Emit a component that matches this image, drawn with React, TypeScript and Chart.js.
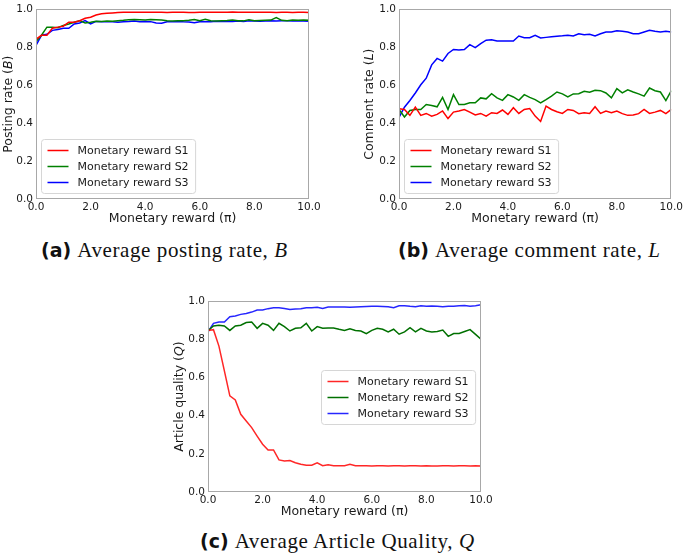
import React, { useEffect, useRef } from "react";
import { Chart, registerables } from "chart.js";
Chart.register(...registerables);

// ---------------- data ----------------
const X = [0, 0.2, 0.4, 0.6, 0.8, 1.0, 1.2, 1.4, 1.6, 1.8, 2.0, 2.2, 2.4, 2.6, 2.8, 3.0, 3.2, 3.4, 3.6, 3.8, 4.0, 4.2, 4.4, 4.6, 4.8, 5.0, 5.2, 5.4, 5.6, 5.8, 6.0, 6.2, 6.4, 6.6, 6.8, 7.0, 7.2, 7.4, 7.6, 7.8, 8.0, 8.2, 8.4, 8.6, 8.8, 9.0, 9.2, 9.4, 9.6, 9.8, 10.0];
const SERIES_LABELS = ["Monetary reward S1", "Monetary reward S2", "Monetary reward S3"];
const X_TICKS = [0, 2, 4, 6, 8, 10];
const Y_TICKS = [0, 0.2, 0.4, 0.6, 0.8, 1.0];

// (a) Average posting rate
const postingS1 = [0.842, 0.863, 0.863, 0.9, 0.906, 0.911, 0.932, 0.932, 0.94, 0.953, 0.958, 0.97, 0.976, 0.979, 0.981, 0.983, 0.984, 0.984, 0.985, 0.984, 0.984, 0.985, 0.985, 0.984, 0.983, 0.984, 0.985, 0.984, 0.983, 0.983, 0.984, 0.985, 0.985, 0.984, 0.985, 0.985, 0.986, 0.985, 0.984, 0.984, 0.985, 0.984, 0.985, 0.984, 0.983, 0.984, 0.984, 0.983, 0.984, 0.984, 0.983];
const postingS2 = [0.83, 0.863, 0.906, 0.906, 0.903, 0.915, 0.923, 0.932, 0.94, 0.928, 0.932, 0.937, 0.936, 0.938, 0.937, 0.94, 0.942, 0.945, 0.946, 0.945, 0.944, 0.946, 0.945, 0.944, 0.94, 0.938, 0.94, 0.94, 0.942, 0.946, 0.94, 0.948, 0.94, 0.938, 0.94, 0.941, 0.943, 0.94, 0.939, 0.945, 0.94, 0.941, 0.942, 0.943, 0.956, 0.942, 0.94, 0.944, 0.942, 0.943, 0.942];
const postingS3 = [0.81, 0.863, 0.868, 0.889, 0.894, 0.9, 0.9, 0.923, 0.928, 0.94, 0.923, 0.936, 0.935, 0.935, 0.934, 0.932, 0.935, 0.936, 0.938, 0.935, 0.936, 0.935, 0.928, 0.927, 0.934, 0.935, 0.936, 0.934, 0.933, 0.929, 0.934, 0.935, 0.935, 0.937, 0.936, 0.937, 0.936, 0.938, 0.936, 0.94, 0.938, 0.937, 0.938, 0.939, 0.938, 0.939, 0.939, 0.938, 0.939, 0.938, 0.937];

// (b) Average comment rate
const commentS1 = [0.476, 0.472, 0.441, 0.484, 0.441, 0.451, 0.437, 0.446, 0.464, 0.424, 0.458, 0.464, 0.472, 0.458, 0.443, 0.451, 0.437, 0.455, 0.451, 0.469, 0.446, 0.481, 0.451, 0.472, 0.477, 0.437, 0.409, 0.49, 0.472, 0.46, 0.451, 0.472, 0.467, 0.45, 0.455, 0.451, 0.486, 0.451, 0.464, 0.455, 0.464, 0.45, 0.441, 0.443, 0.45, 0.472, 0.451, 0.458, 0.467, 0.45, 0.472];
const commentS2 = [0.472, 0.432, 0.467, 0.472, 0.472, 0.498, 0.493, 0.486, 0.536, 0.472, 0.55, 0.498, 0.498, 0.507, 0.507, 0.533, 0.528, 0.555, 0.533, 0.52, 0.55, 0.538, 0.52, 0.55, 0.536, 0.524, 0.507, 0.524, 0.542, 0.564, 0.554, 0.538, 0.554, 0.555, 0.568, 0.563, 0.573, 0.571, 0.559, 0.533, 0.582, 0.559, 0.576, 0.564, 0.554, 0.542, 0.585, 0.571, 0.564, 0.519, 0.571];
const commentS3 = [0.43, 0.484, 0.519, 0.559, 0.602, 0.637, 0.707, 0.741, 0.727, 0.767, 0.788, 0.785, 0.788, 0.814, 0.798, 0.819, 0.837, 0.84, 0.833, 0.833, 0.833, 0.833, 0.859, 0.85, 0.85, 0.863, 0.849, 0.852, 0.855, 0.858, 0.86, 0.863, 0.859, 0.871, 0.866, 0.868, 0.859, 0.871, 0.88, 0.88, 0.887, 0.884, 0.88, 0.871, 0.871, 0.88, 0.889, 0.884, 0.88, 0.884, 0.88];

// (c) Average article quality
const qualityS1 = [0.845, 0.85, 0.764, 0.634, 0.503, 0.482, 0.407, 0.372, 0.337, 0.293, 0.25, 0.22, 0.22, 0.168, 0.162, 0.165, 0.153, 0.145, 0.14, 0.14, 0.153, 0.138, 0.142, 0.138, 0.138, 0.138, 0.145, 0.138, 0.137, 0.137, 0.136, 0.137, 0.137, 0.136, 0.137, 0.137, 0.136, 0.137, 0.137, 0.136, 0.137, 0.136, 0.136, 0.137, 0.137, 0.136, 0.137, 0.137, 0.136, 0.137, 0.136];
const qualityS2 = [0.845, 0.869, 0.873, 0.869, 0.846, 0.869, 0.873, 0.887, 0.89, 0.857, 0.883, 0.873, 0.846, 0.883, 0.866, 0.843, 0.857, 0.86, 0.883, 0.843, 0.866, 0.857, 0.859, 0.859, 0.852, 0.846, 0.855, 0.846, 0.843, 0.829, 0.846, 0.857, 0.852, 0.838, 0.852, 0.826, 0.838, 0.86, 0.838, 0.857, 0.843, 0.838, 0.84, 0.848, 0.815, 0.83, 0.83, 0.84, 0.85, 0.825, 0.8];
const qualityS3 = [0.838, 0.883, 0.89, 0.89, 0.918, 0.921, 0.93, 0.935, 0.942, 0.953, 0.953, 0.96, 0.965, 0.965, 0.961, 0.956, 0.958, 0.96, 0.965, 0.965, 0.967, 0.961, 0.969, 0.969, 0.969, 0.969, 0.967, 0.969, 0.97, 0.971, 0.972, 0.972, 0.971, 0.97, 0.965, 0.975, 0.975, 0.972, 0.97, 0.975, 0.973, 0.974, 0.973, 0.97, 0.972, 0.973, 0.975, 0.977, 0.972, 0.975, 0.98];

// ---------------- styling ----------------
const FONT = "'DejaVu Sans', sans-serif";
const TEXT = "#1a1a1a";
const SPINE = "#a8a8a8";

const framePlugin = {
  id: "frameTitles",
  afterDatasetsDraw(chart: any, _args: any, opts: any) {
    const { ctx, chartArea: a } = chart;
    ctx.save();
    ctx.strokeStyle = SPINE;
    ctx.lineWidth = 1;
    ctx.strokeRect(Math.round(a.left) + 0.5, Math.round(a.top) + 0.5, Math.round(a.right - a.left) - 1, Math.round(a.bottom - a.top) - 1);
    ctx.fillStyle = TEXT;
    // x title
    ctx.font = `12.5px ${FONT}`;
    ctx.textAlign = "center";
    ctx.textBaseline = "middle";
    ctx.fillText(opts.xTitle, (a.left + a.right) / 2, a.bottom + 20);
    // y title with italic part
    const parts: [string, boolean][] = opts.yTitle;
    const widths = parts.map(([t, it]) => {
      ctx.font = `${it ? "italic " : ""}12.5px ${FONT}`;
      return ctx.measureText(t).width;
    });
    const total = widths.reduce((s, w) => s + w, 0);
    ctx.translate(a.left + opts.yTitleOffset, (a.top + a.bottom) / 2);
    ctx.rotate(-Math.PI / 2);
    ctx.textAlign = "left";
    let x = -total / 2;
    parts.forEach(([t, it], i) => {
      ctx.font = `${it ? "italic " : ""}12.5px ${FONT}`;
      ctx.fillText(t, x, 0);
      x += widths[i];
    });
    ctx.restore();
  },
  afterDraw(chart: any, _args: any, opts: any) {
    const { ctx, chartArea: a } = chart;
    ctx.save();
    ctx.font = `11px ${FONT}`;
    const items = chart.data.datasets.map((d: any) => ({ label: d.label, color: d.borderColor, w: d.borderWidth }));
    const tw = Math.max(...items.map((it: any) => ctx.measureText(it.label).width));
    const rowH = 16;
    const bw = 36 + tw + 7;
    const bh = items.length * rowH + 6;
    let bx: number, by: number;
    if (opts.legend === "lower left") {
      bx = a.left + 5;
      by = a.bottom - 6 - bh;
    } else {
      bx = a.right - 6 - bw;
      by = (a.top + a.bottom) / 2 - bh / 2;
    }
    bx = Math.round(bx) + 0.5;
    by = Math.round(by) + 0.5;
    ctx.beginPath();
    ctx.roundRect(bx, by, bw, bh, 3);
    ctx.fillStyle = "rgba(255,255,255,0.85)";
    ctx.fill();
    ctx.strokeStyle = "#d6d6d6";
    ctx.lineWidth = 1;
    ctx.stroke();
    items.forEach((it: any, i: number) => {
      const cy = by + 11 + i * rowH;
      ctx.beginPath();
      ctx.moveTo(bx + 6, cy);
      ctx.lineTo(bx + 27, cy);
      ctx.strokeStyle = it.color;
      ctx.lineWidth = it.w;
      ctx.stroke();
      ctx.fillStyle = TEXT;
      ctx.textAlign = "left";
      ctx.textBaseline = "middle";
      ctx.fillText(it.label, bx + 36, cy + 0.5);
    });
    ctx.restore();
  },
};

type PanelSpec = {
  left: number; top: number; w: number; h: number;
  yW: number; xH: number; padTop: number; padRight: number;
  series: number[][]; colors: string[];
  xTitle: string; yTitle: [string, boolean][]; yTitleOffset: number;
  legend: string;
};

function Panel({ spec }: { spec: PanelSpec }) {
  const ref = useRef<HTMLCanvasElement>(null);
  useEffect(() => {
    const chart = new Chart(ref.current as HTMLCanvasElement, {
      type: "line",
      data: {
        datasets: spec.series.map((s, i) => ({
          label: SERIES_LABELS[i],
          data: X.map((x, j) => ({ x, y: s[j] })),
          borderColor: spec.colors[i],
          borderWidth: 1.5,
          pointRadius: 0,
          tension: 0,
          fill: false,
        })),
      },
      options: {
        responsive: false,
        animation: false,
        events: [],
        layout: { padding: { left: 0, top: spec.padTop, right: spec.padRight, bottom: 0 } },
        plugins: {
          legend: { display: false },
          tooltip: { enabled: false },
          frameTitles: { xTitle: spec.xTitle, yTitle: spec.yTitle, yTitleOffset: spec.yTitleOffset, legend: spec.legend },
        } as any,
        scales: {
          x: {
            type: "linear",
            min: 0,
            max: 10,
            afterFit: (s: any) => { s.height = spec.xH; },
            afterBuildTicks: (s: any) => { s.ticks = X_TICKS.map((v) => ({ value: v })); },
            grid: { display: false, drawTicks: false },
            border: { display: false },
            ticks: { padding: 2, color: TEXT, font: { family: FONT, size: 10.5 }, maxRotation: 0, callback: (v: any) => Number(v).toFixed(1) },
          },
          y: {
            min: 0,
            max: 1,
            afterFit: (s: any) => { s.width = spec.yW; },
            afterBuildTicks: (s: any) => { s.ticks = Y_TICKS.map((v) => ({ value: v })); },
            grid: { display: false, drawTicks: false },
            border: { display: false },
            ticks: { padding: 3, color: TEXT, font: { family: FONT, size: 10.5 }, callback: (v: any) => Number(v).toFixed(1) },
          },
        },
      },
      plugins: [framePlugin as any],
    });
    return () => chart.destroy();
  }, []);
  return (
    <canvas
      ref={ref}
      width={spec.w}
      height={spec.h}
      style={{ position: "absolute", left: spec.left, top: spec.top, width: spec.w, height: spec.h }}
    />
  );
}

const panelA: PanelSpec = {
  left: 0, top: 0, w: 335, h: 232, yW: 36, xH: 33, padTop: 7, padRight: 26,
  series: [postingS1, postingS2, postingS3], colors: ["#ff0000", "#008000", "#0000ff"],
  xTitle: "Monetary reward (\u03c0)", yTitle: [["Posting rate (", false], ["B", true], [")", false]], yTitleOffset: -27,
  legend: "lower left",
};
const panelB: PanelSpec = {
  left: 360, top: 0, w: 325, h: 232, yW: 39, xH: 33, padTop: 7, padRight: 13,
  series: [commentS1, commentS2, commentS3], colors: ["#ff0000", "#008000", "#0000ff"],
  xTitle: "Monetary reward (\u03c0)", yTitle: [["Comment rate (", false], ["L", true], [")", false]], yTitleOffset: -29,
  legend: "lower left",
};
const panelC: PanelSpec = {
  left: 170, top: 290, w: 337, h: 235, yW: 38, xH: 33, padTop: 11, padRight: 26,
  series: [qualityS1, qualityS2, qualityS3], colors: ["rgba(255,0,0,0.85)", "#007000", "rgba(0,0,255,0.85)"],
  xTitle: "Monetary reward (\u03c0)", yTitle: [["Article quality (", false], ["Q", true], [")", false]], yTitleOffset: -28,
  legend: "center right",
};

function Caption({ left, top, tag, text, v }: { left: number; top: number; tag: string; text: string; v: string }) {
  return (
    <div style={{ position: "absolute", left, top, whiteSpace: "nowrap", lineHeight: "22px", color: "#111" }}>
      <span style={{ fontFamily: "'DejaVu Sans', sans-serif", fontWeight: "bold", fontSize: 19 }}>{tag}</span>
      <span style={{ fontFamily: "'Liberation Serif', serif", fontSize: 21, letterSpacing: 0.6, marginLeft: 6 }}>
        {text}
        <i>{v}</i>
      </span>
    </div>
  );
}

export default function App() {
  return (
    <div style={{ position: "fixed", left: 0, top: 0, width: 685, height: 558, background: "#fff", overflow: "hidden" }}>
      <Panel spec={panelA} />
      <Panel spec={panelB} />
      <Panel spec={panelC} />
      <Caption left={41} top={239} tag="(a)" text="Average posting rate, " v="B" />
      <Caption left={398} top={239} tag="(b)" text="Average comment rate, " v="L" />
      <Caption left={200} top={530} tag="(c)" text="Average Article Quality, " v="Q" />
    </div>
  );
}
